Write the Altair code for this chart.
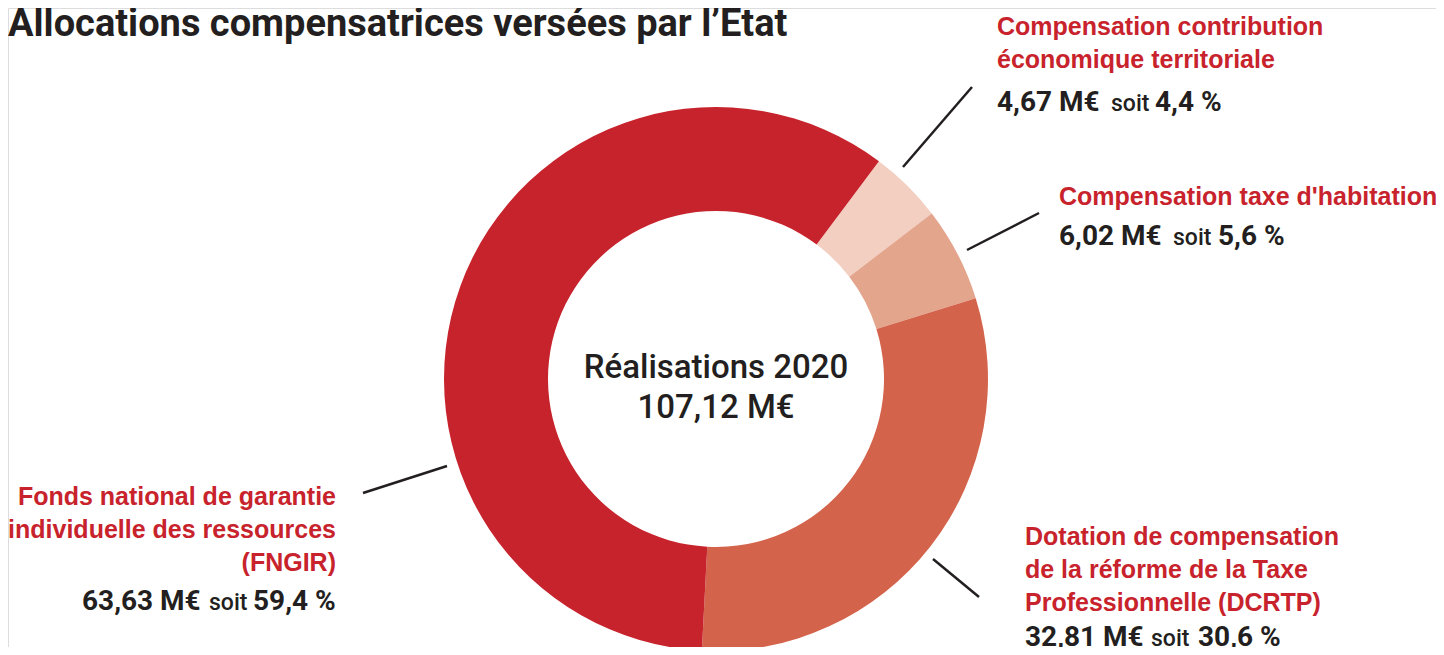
import math
import altair as alt
import pandas as pd

# ---- data ----
categories = [
    "Compensation contribution économique territoriale",
    "Compensation taxe d'habitation",
    "Dotation de compensation de la réforme de la Taxe Professionnelle (DCRTP)",
    "Fonds national de garantie individuelle des ressources (FNGIR)",
]
label_lines = [
    ["Compensation contribution", "économique territoriale"],
    ["Compensation taxe d'habitation"],
    ["Dotation de compensation", "de la réforme de la Taxe", "Professionnelle (DCRTP)"],
    ["Fonds national de garantie", "individuelle des ressources", "(FNGIR)"],
]
values = [4.67, 6.02, 32.81, 63.63]          # M€
percents = [4.4, 5.6, 30.6, 59.4]            # %
colors = ["#F2CFC0", "#E4A58D", "#D4634B", "#C7232C"]
title_text = "Allocations compensatrices versées par l’Etat"
center_lines = ["Réalisations 2020", "107,12 M€"]

RED = "#C8232C"
DARK = "#231F20"
DIN = "Roboto"
LAB = "Liberation Sans"
OFF = 8  # page margin

def fmt(v, d):
    return f"{v:.{d}f}".replace(".", ",")

df = pd.DataFrame({"cat": categories, "value": values, "ord": list(range(len(values)))})

start = math.radians(36.8)
cx, cy = 716 - OFF, 379 - OFF

donut = alt.Chart(df).mark_arc(innerRadius=168, outerRadius=272, strokeWidth=0).encode(
    theta=alt.Theta("value:Q", stack=True, scale=alt.Scale(range=[start, start + 2 * math.pi])),
    order=alt.Order("ord:Q", sort="ascending"),
    color=alt.Color("cat:N", scale=alt.Scale(domain=categories, range=colors), legend=None),
    x=alt.value(cx),
    y=alt.value(cy),
)

layers = [donut]

def text_layer(txt, x, y, size, color, weight="bold", align="left", font=DIN, line_height=None):
    kw = dict(align=align, baseline="alphabetic", fontSize=size, font=font,
              fontWeight=weight, color=color)
    if line_height is not None:
        kw["lineBreak"] = "\n"
        kw["lineHeight"] = line_height
    return alt.Chart(pd.DataFrame({"t": [txt]})).mark_text(**kw).encode(
        x=alt.value(x - OFF), y=alt.value(y - OFF), text="t:N")

def rule_layer(x1, y1, x2, y2):
    return alt.Chart(pd.DataFrame({"k": [0]})).mark_rule(
        color=DARK, strokeWidth=2.5).encode(
        x=alt.value(x1 - OFF), y=alt.value(y1 - OFF),
        x2=alt.value(x2 - OFF), y2=alt.value(y2 - OFF))

# title
layers.append(text_layer(title_text, OFF, 36, 38, DARK, weight="bold"))

# centre text
layers.append(text_layer(center_lines[0], 716, 378, 33, DARK, weight=500, align="center"))
layers.append(text_layer(center_lines[1], 716, 418, 33, DARK, weight=500, align="center"))

# label layout: (red x, red align, first baseline, value baseline, value-piece x's)
layout = [
    (997, "left", 35, 111, (997, 1111, 1155)),
    (1059, "left", 205, 245, (1059, 1173, 1218)),
    (1025, "left", 545, 646, (1025, 1151, 1198)),
    (336, "right", 505, 610, (82, 209, 253)),
]
for i, (lx, al, yb, yv, xs) in enumerate(layout):
    layers.append(text_layer("\n".join(label_lines[i]), lx, yb, 25, RED,
                             weight="bold", align=al, font=LAB, line_height=33))
    layers.append(text_layer(fmt(values[i], 2) + " M€", xs[0], yv, 28, DARK, weight="bold"))
    layers.append(text_layer("soit", xs[1], yv, 23, DARK, weight=500))
    layers.append(text_layer(fmt(percents[i], 1) + " %", xs[2], yv, 28, DARK, weight="bold"))

# leader lines
layers.append(rule_layer(903, 167, 972, 87))
layers.append(rule_layer(967, 250, 1039, 213))
layers.append(rule_layer(933, 559, 979, 597))
layers.append(rule_layer(363, 493, 447, 466))

chart = alt.layer(*layers).properties(
    width=1428, height=639, padding=0, autosize=alt.AutoSizeParams(type="none")
).configure_view(strokeWidth=0, stroke="transparent").configure(background="white")

chart.save("out.html", embed_options={"renderer": "svg", "actions": False})
